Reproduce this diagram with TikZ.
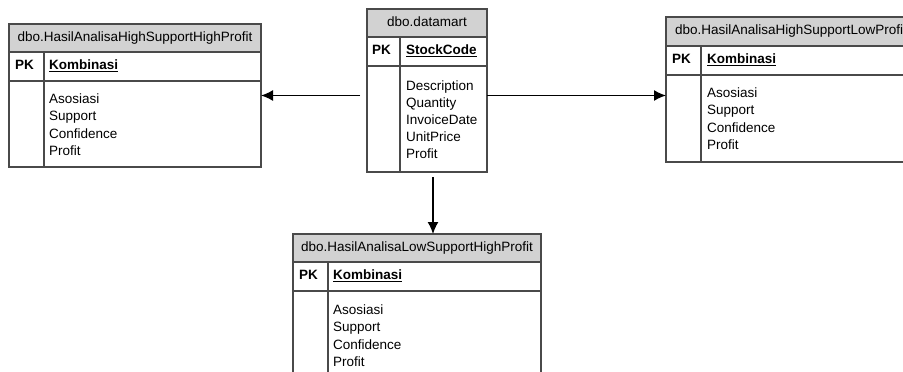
\documentclass[tikz,border=0pt]{standalone}
\usepackage{fontspec}
\setmainfont{Liberation Sans}
\usetikzlibrary{arrows.meta}
\definecolor{hdrgray}{HTML}{D2D2D2}
\definecolor{tblline}{HTML}{4A4A4A}
\tikzset{
  tbl/.style={draw=tblline, line width=1.4pt, inner sep=0pt, outer sep=0pt, anchor=north west},
  rule/.style={draw=tblline, line width=1.4pt},
  txt/.style={font=\fontsize{13.5}{16}\selectfont, inner sep=0pt, text height=1.5ex, text depth=.25ex},
  title/.style={txt},
  pk/.style={txt, font=\fontsize{13.5}{16}\selectfont\bfseries, anchor=west},
  attr/.style={txt, anchor=west},
  link/.style={-{Latex[length=12pt,width=11pt]}, line width=1.4pt}
}
\begin{document}
\begin{tikzpicture}[x=1pt,y=-1pt]
\useasboundingbox (0,0) rectangle (903,372);
\clip (0,0) rectangle (903,372);
% dbo.HasilAnalisaHighSupportHighProfit
\fill[hdrgray] (9,24) rectangle (261,52);
\node[tbl, minimum width=252, minimum height=143] (hhp) at (9,24) {};
\draw[rule] (9,52) -- (261,52);
\draw[rule] (9,81) -- (261,81);
\draw[rule] (44,52) -- (44,167);
\node[title] (hhp title) at (135,38) {dbo.HasilAnalisaHighSupportHighProfit};
\node[pk] (hhp pk) at (15,66.5) {PK};
\node[pk] (hhp key) at (49,66.5) {\underline{Kombinasi}};
\foreach \t [count=\i] in {Asosiasi,Support,Confidence,Profit}
  \node[attr] (hhp a\i) at (49,100+17.5*\i-17.5) {\t};
% dbo.datamart
\fill[hdrgray] (367,9) rectangle (487,37);
\node[tbl, minimum width=120, minimum height=163] (dm) at (367,9) {};
\draw[rule] (367,37) -- (487,37);
\draw[rule] (367,66) -- (487,66);
\draw[rule] (400,37) -- (400,172);
\node[title] (dm title) at (427,23) {dbo.datamart};
\node[pk] (dm pk) at (372,51.5) {PK};
\node[pk] (dm key) at (406,51.5) {\underline{StockCode}};
\foreach \t [count=\i] in {Description,Quantity,InvoiceDate,UnitPrice,Profit}
  \node[attr] (dm a\i) at (406,87+17*\i-17) {\t};
% dbo.HasilAnalisaHighSupportLowProfit
\fill[hdrgray] (666,17) rectangle (918,46);
\node[tbl, minimum width=252, minimum height=145] (hslp) at (666,17) {};
\draw[rule] (666,46) -- (918,46);
\draw[rule] (666,75) -- (918,75);
\draw[rule] (701,46) -- (701,162);
\node[title] (hslp title) at (791,31.5) {dbo.HasilAnalisaHighSupportLowProfit};
\node[pk] (hslp pk) at (672,60.5) {PK};
\node[pk] (hslp key) at (707,60.5) {\underline{Kombinasi}};
\foreach \t [count=\i] in {Asosiasi,Support,Confidence,Profit}
  \node[attr] (hslp a\i) at (707,94+17.5*\i-17.5) {\t};
% dbo.HasilAnalisaLowSupportHighProfit
\fill[hdrgray] (293,234) rectangle (541,262);
\node[tbl, minimum width=248, minimum height=186] (lshp) at (293,234) {};
\draw[rule] (293,262) -- (541,262);
\draw[rule] (293,291) -- (541,291);
\draw[rule] (328,262) -- (328,420);
\node[title] (lshp title) at (417,248) {dbo.HasilAnalisaLowSupportHighProfit};
\node[pk] (lshp pk) at (299,276.5) {PK};
\node[pk] (lshp key) at (333,276.5) {\underline{Kombinasi}};
\foreach \t [count=\i] in {Asosiasi,Support,Confidence,Profit}
  \node[attr] (lshp a\i) at (333,311+17.5*\i-17.5) {\t};
% relations
\coordinate (drop) at (433,177);
\draw[link, shorten <=7pt] (dm.west |- hhp.east) -- (hhp.east);
\draw[link] (dm.east |- hhp.east) -- (hslp.west |- hhp.east);
\draw[link] (drop) -- (drop |- lshp.north);
\end{tikzpicture}
\end{document}
